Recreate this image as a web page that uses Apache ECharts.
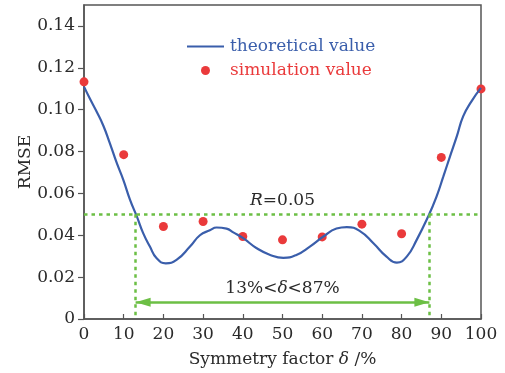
<!DOCTYPE html>
<html>
<head>
<meta charset="utf-8">
<script src="https://cdn.jsdelivr.net/npm/echarts@6/dist/echarts.min.js"></script>
<style>
  html, body { margin: 0; padding: 0; background: #fff; }
  #chart { width: 505px; height: 373px; }
</style>
</head>
<body>
<div id="chart"></div>
<script>
// theoretical curve
const theoryX = [0, 1.5, 3.2, 4.9, 6.5, 8.2, 9.9, 11.6, 13.3, 14.9, 16.6, 18.3, 20.6, 23.3, 26.7, 29.2,
  31.7, 33.4, 35.9, 37.6, 40.1, 43.5, 46.9, 50.2, 53.5, 56.9, 60.3, 63.6, 66.2, 69.5, 72.9, 76.2,
  78.8, 81.3, 83.8, 86.7, 88.8, 90.5, 92.2, 93.9, 95.5, 97.6, 100]
const theoryY = [0.111, 0.1052, 0.0990, 0.0922, 0.0840, 0.0748, 0.0665, 0.0569, 0.0490, 0.0410, 0.0346, 0.0290, 0.0266, 0.0282, 0.0346, 0.0400,
  0.0424, 0.0437, 0.0432, 0.0414, 0.0386, 0.0338, 0.0306, 0.0292, 0.0306, 0.0346, 0.0394, 0.0432, 0.0439, 0.0420, 0.0362, 0.0298,
  0.0269, 0.0298, 0.0378, 0.0490, 0.0585, 0.0680, 0.0777, 0.0872, 0.0968, 0.1040, 0.1104]

// simulation points
const simX = [0, 10, 20, 30, 40, 50, 60, 70, 80, 90, 100]
const simY = [0.1133, 0.0785, 0.0442, 0.0466, 0.0394, 0.0378, 0.0392, 0.0453, 0.0407, 0.0772, 0.1099]

const yTicks = [0, 0.02, 0.04, 0.06, 0.08, 0.10, 0.12, 0.14]
const rLevel = 0.05
const rangeLow = 13
const rangeHigh = 87
const arrowLevel = 0.008

const serif = 'DejaVu Serif'
const blue = '#3a5eab'
const red = '#ea3a3b'
const green = '#6cbf45'
const axisColor = '#555'
const textColor = '#2a2a2a'

// arrow head, tip sits in the middle of the symbol box
const arrowHead = 'path://M0,0 M30,0 M15,15 L19.5,30 L10.5,30 Z'

const richText = {
  i: { fontFamily: serif, fontSize: 17, fontStyle: 'italic', color: textColor },
  a: { fontFamily: serif, fontSize: 17, color: textColor }
}

const chart = echarts.init(document.getElementById('chart'))

const option = {
  animation: false,
  grid: {
    left: 84, right: 24, top: 5, bottom: 54,
    show: true, borderColor: axisColor, borderWidth: 1.5,
    outerBoundsMode: 'none'
  },
  legend: {
    orient: 'vertical',
    left: 181, top: 33,
    itemWidth: 37, itemHeight: 9, itemGap: 7,
    textStyle: { fontFamily: serif, fontSize: 17, padding: [0, 0, 0, 1] },
    data: [
      { name: 'theoretical value', itemStyle: { opacity: 0 }, textStyle: { color: blue } },
      { name: 'simulation value', icon: 'circle', textStyle: { color: red } }
    ]
  },
  xAxis: {
    type: 'value', min: 0, max: 100, interval: 10,
    name: '{a|Symmetry factor }{i|δ}{a| /%}', nameLocation: 'middle', nameGap: 32,
    nameMoveOverlap: false,
    nameTextStyle: { rich: richText },
    axisLine: { lineStyle: { color: axisColor, width: 1.5 } },
    axisTick: { inside: true, length: 5, lineStyle: { color: axisColor, width: 1.2 } },
    axisLabel: { margin: 7, fontFamily: serif, fontSize: 17, color: textColor },
    splitLine: { show: false }
  },
  yAxis: {
    type: 'value', min: 0, max: 0.15,
    name: 'RMSE', nameLocation: 'middle', nameGap: 50,
    nameMoveOverlap: false,
    nameTextStyle: { fontFamily: serif, fontSize: 17, color: textColor },
    axisLine: { lineStyle: { color: axisColor, width: 1.5 } },
    axisTick: { length: 6, customValues: yTicks, lineStyle: { color: axisColor, width: 1.2 } },
    axisLabel: {
      margin: 9, fontFamily: serif, fontSize: 17, color: textColor,
      customValues: yTicks,
      formatter: v => (v === 0 ? '0' : v.toFixed(2))
    },
    splitLine: { show: false }
  },
  series: [
    {
      name: 'theoretical value',
      type: 'line',
      smooth: 0.5,
      symbol: 'none',
      lineStyle: { color: blue, width: 2.2 },
      itemStyle: { color: blue },
      data: theoryX.map((x, i) => [x, theoryY[i]]),
      markLine: {
        silent: true,
        symbol: 'none',
        lineStyle: { color: green, width: 2.5, type: [3.5, 4] },
        label: { show: false },
        data: [
          [
            {
              coord: [0, rLevel],
              label: {
                show: true, position: 'middle', distance: 5,
                formatter: '{i|R}{a|=0.05}', rich: richText
              }
            },
            { coord: [100, rLevel] }
          ],
          [{ coord: [rangeLow, rLevel] }, { coord: [rangeLow, 0] }],
          [{ coord: [rangeHigh, rLevel] }, { coord: [rangeHigh, 0] }]
        ]
      }
    },
    {
      name: 'simulation value',
      type: 'scatter',
      symbolSize: 9,
      itemStyle: { color: red, opacity: 1 },
      data: simX.map((x, i) => [x, simY[i]]),
      markLine: {
        silent: true,
        symbol: [arrowHead, arrowHead],
        symbolSize: 30,
        lineStyle: { color: green, width: 2.5, type: 'solid' },
        label: {
          show: true, position: 'middle', distance: 5,
          formatter: '{a|13%<}{i|δ}{a|<87%}', rich: richText
        },
        data: [
          [{ coord: [rangeLow, arrowLevel] }, { coord: [rangeHigh, arrowLevel] }]
        ]
      }
    }
  ]
}

chart.setOption(option)
</script>
</body>
</html>
